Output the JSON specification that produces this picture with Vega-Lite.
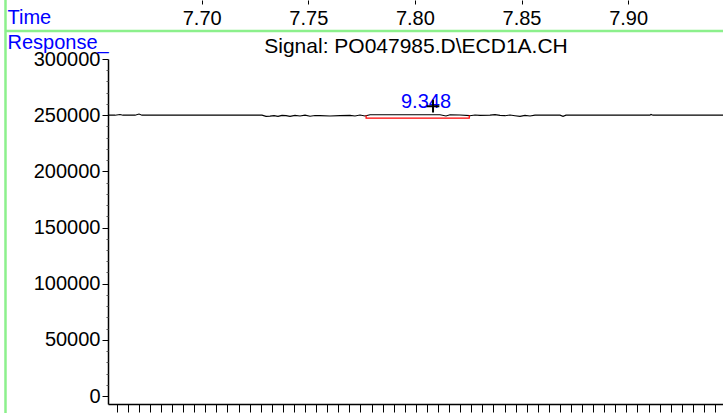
{
  "$schema": "https://vega.github.io/schema/vega-lite/v6.json",
  "width": 615,
  "height": 345,
  "autosize": "none",
  "padding": {"left": 108, "top": 59, "right": 0, "bottom": 9},
  "background": "white",
  "config": {
    "view": {"stroke": null},
    "font": "Liberation Sans",
    "axis": {"labelFont": "Liberation Sans", "titleFont": "Liberation Sans", "grid": false}
  },
  "datasets": {
    "signal": [
      {"t": 7.65605, "v": 250000}, {"t": 7.65933, "v": 250000}, {"t": 7.66168, "v": 250623},
      {"t": 7.66309, "v": 250000}, {"t": 7.66872, "v": 250000}, {"t": 7.67059, "v": 251071},
      {"t": 7.672, "v": 250000}, {"t": 7.68044, "v": 250000}, {"t": 7.6992, "v": 250000},
      {"t": 7.71796, "v": 250000}, {"t": 7.72828, "v": 250000}, {"t": 7.73016, "v": 248932},
      {"t": 7.73204, "v": 249110}, {"t": 7.73391, "v": 249555}, {"t": 7.73579, "v": 248932},
      {"t": 7.73766, "v": 249822}, {"t": 7.73954, "v": 249555}, {"t": 7.74142, "v": 248932},
      {"t": 7.74376, "v": 249822}, {"t": 7.74611, "v": 249288}, {"t": 7.74845, "v": 250000},
      {"t": 7.7508, "v": 249110}, {"t": 7.75314, "v": 249733}, {"t": 7.75549, "v": 249555},
      {"t": 7.76018, "v": 249288}, {"t": 7.76487, "v": 249555}, {"t": 7.76956, "v": 249822},
      {"t": 7.7719, "v": 249288}, {"t": 7.77425, "v": 250178}, {"t": 7.77659, "v": 249288},
      {"t": 7.77894, "v": 250356}, {"t": 7.78363, "v": 250356}, {"t": 7.79301, "v": 250356},
      {"t": 7.80239, "v": 250356}, {"t": 7.81177, "v": 250356}, {"t": 7.81459, "v": 249288},
      {"t": 7.81646, "v": 250356}, {"t": 7.82115, "v": 250178}, {"t": 7.82584, "v": 249555},
      {"t": 7.82819, "v": 250178}, {"t": 7.83053, "v": 249822}, {"t": 7.83523, "v": 250000},
      {"t": 7.83757, "v": 250445}, {"t": 7.83992, "v": 249822}, {"t": 7.84226, "v": 249555},
      {"t": 7.84461, "v": 250178}, {"t": 7.84695, "v": 249555}, {"t": 7.8493, "v": 248932},
      {"t": 7.85164, "v": 249822}, {"t": 7.85399, "v": 249288}, {"t": 7.85633, "v": 250000},
      {"t": 7.85868, "v": 250000}, {"t": 7.86806, "v": 250000}, {"t": 7.86947, "v": 248932},
      {"t": 7.87088, "v": 250000}, {"t": 7.88682, "v": 250000}, {"t": 7.91027, "v": 250000},
      {"t": 7.91074, "v": 250712}, {"t": 7.91168, "v": 250000}, {"t": 7.93373, "v": 250000},
      {"t": 7.94451, "v": 250000}
    ],
    "baseline": [
      {"t": 7.7771, "v": 250000, "o": 0},
      {"t": 7.7771, "v": 247300, "o": 1},
      {"t": 7.8255, "v": 247300, "o": 2},
      {"t": 7.8255, "v": 250000, "o": 3}
    ],
    "peak": [
      {"t": 7.8052, "v": 256000, "label": "9.348", "tm": 7.8085, "vm": 258000}
    ],
    "frame": [{}]
  },
  "layer": [
    {
      "data": {"name": "frame"},
      "mark": {"type": "rule", "color": "#8CF08C", "strokeWidth": 2.5},
      "encoding": {
        "x": {"datum": 7.60797, "type": "quantitative", "scale": {"domain": [7.65605, 7.94451], "nice": false, "zero": false}, "axis": null},
        "x2": {"datum": 7.96},
        "y": {"datum": 324900, "type": "quantitative", "scale": {"domain": [-7100, 300000], "nice": false, "zero": false}, "axis": null}
      }
    },
    {
      "data": {"name": "frame"},
      "mark": {"type": "rule", "color": "#8CF08C", "strokeWidth": 2.5},
      "encoding": {
        "x": {"datum": 7.60797, "type": "quantitative", "scale": {"domain": [7.65605, 7.94451], "nice": false, "zero": false}, "axis": null},
        "y": {"datum": 360000, "type": "quantitative", "scale": {"domain": [-7100, 300000], "nice": false, "zero": false}, "axis": null},
        "y2": {"datum": -20000}
      }
    },
    {
      "data": {"name": "signal"},
      "mark": {"type": "line", "color": "black", "strokeWidth": 1.1},
      "encoding": {
        "x": {
          "field": "t", "type": "quantitative",
          "scale": {"domain": [7.65605, 7.94451], "nice": false, "zero": false},
          "axis": {
            "orient": "bottom",
            "values": [7.66013, 7.66533, 7.67052, 7.67572, 7.68092, 7.68612, 7.69131, 7.69651, 7.70171, 7.7069, 7.7121, 7.7173, 7.72249, 7.72769, 7.73289, 7.73809, 7.74328, 7.74848, 7.75368, 7.75887, 7.76407, 7.76927, 7.77446, 7.77966, 7.78486, 7.79006, 7.79525, 7.80045, 7.80565, 7.81084, 7.81604, 7.82124, 7.82643, 7.83163, 7.83683, 7.84203, 7.84722, 7.85242, 7.85762, 7.86281, 7.86801, 7.87321, 7.8784, 7.8836, 7.8888, 7.894, 7.89919, 7.90439, 7.90959, 7.91478, 7.91998, 7.92518, 7.93037, 7.93557, 7.94077],
            "labels": false,
            "tickSize": 8,
            "tickColor": "black",
            "tickWidth": 1,
            "domainColor": "black",
            "domainWidth": 1.5,
            "title": "Signal: PO047985.D\\ECD1A.CH",
            "titleFontSize": 21,
            "titleFontWeight": "normal",
            "titleColor": "black",
            "titleX": 307.5,
            "titleY": -351.5,
            "titleAlign": "center",
            "titleBaseline": "alphabetic",
            "titleAnchor": null
          }
        },
        "y": {
          "field": "v", "type": "quantitative",
          "scale": {"domain": [-7100, 300000], "nice": false, "zero": false},
          "axis": {
            "orient": "left",
            "values": [0, 50000, 100000, 150000, 200000, 250000, 300000],
            "format": "d",
            "labelFontSize": 20,
            "labelColor": "black",
            "labelPadding": 2,
            "tickSize": 6,
            "tickColor": "black",
            "domainColor": "black",
            "domainWidth": 1.5,
            "title": "Response_",
            "titleFontSize": 20,
            "titleFontWeight": "normal",
            "titleColor": "#0000FF",
            "titleAngle": 0,
            "titleX": -101,
            "titleY": -10.5,
            "titleAlign": "left",
            "titleBaseline": "alphabetic"
          }
        }
      }
    },
    {
      "data": {"name": "baseline"},
      "mark": {"type": "line", "color": "#FF0000", "strokeWidth": 1.2},
      "encoding": {
        "x": {"field": "t", "type": "quantitative", "scale": {"domain": [7.65605, 7.94451], "nice": false, "zero": false}, "axis": null},
        "y": {"field": "v", "type": "quantitative", "scale": {"domain": [-7100, 300000], "nice": false, "zero": false}, "axis": null},
        "order": {"field": "o"}
      }
    },
    {
      "data": {"name": "peak"},
      "mark": {"type": "text", "color": "#0000FF", "fontSize": 20, "align": "center", "baseline": "alphabetic", "font": "Liberation Sans"},
      "encoding": {
        "x": {
          "field": "t", "type": "quantitative",
          "scale": {"domain": [7.65605, 7.94451], "nice": false, "zero": false},
          "axis": {
            "orient": "top",
            "offset": 55,
            "values": [7.7, 7.75, 7.8, 7.85, 7.9],
            "format": ".2f",
            "domain": false,
            "tickSize": 4,
            "tickColor": "black",
            "labelFontSize": 20,
            "labelColor": "black",
            "labelPadding": -24,
            "labelBaseline": "alphabetic",
            "title": "Time",
            "titleFontSize": 20,
            "titleFontWeight": "normal",
            "titleColor": "#0000FF",
            "titleX": -101,
            "titleY": 19.3,
            "titleAlign": "left",
            "titleBaseline": "alphabetic",
            "titleAngle": 0
          }
        },
        "y": {"field": "v", "type": "quantitative", "scale": {"domain": [-7100, 300000], "nice": false, "zero": false}, "axis": null},
        "text": {"field": "label"}
      }
    },
    {
      "data": {"name": "peak"},
      "mark": {"type": "point", "shape": "M-1,0H1M0,-1V1", "size": 160, "stroke": "black", "strokeWidth": 2, "filled": false, "opacity": 1},
      "encoding": {
        "x": {"field": "tm", "type": "quantitative", "scale": {"domain": [7.65605, 7.94451], "nice": false, "zero": false}, "axis": null},
        "y": {
          "field": "vm", "type": "quantitative",
          "scale": {"domain": [-7100, 300000], "nice": false, "zero": false},
          "axis": {
            "orient": "left",
            "values": [10000, 20000, 30000, 40000, 60000, 70000, 80000, 90000, 110000, 120000, 130000, 140000, 160000, 170000, 180000, 190000, 210000, 220000, 230000, 240000, 260000, 270000, 280000, 290000],
            "labels": false,
            "domain": false,
            "tickSize": 2,
            "tickColor": "#555555",
            "title": null
          }
        }
      }
    }
  ],
  "resolve": {"axis": {"x": "independent", "y": "independent"}}
}
